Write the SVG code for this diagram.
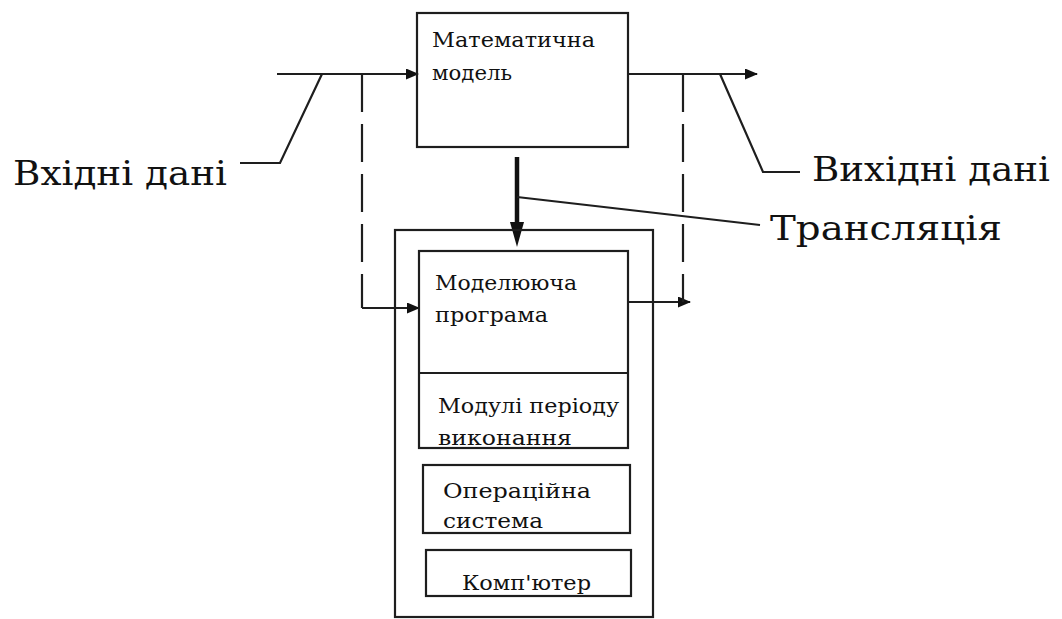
<svg xmlns="http://www.w3.org/2000/svg" width="1062" height="619" viewBox="0 0 1062 619">
  <style>
    .box { fill: none; stroke: #1e1e1e; stroke-width: 2.2; }
    .ln { fill: none; stroke: #1e1e1e; stroke-width: 2.2; }
    .dash { fill: none; stroke: #1e1e1e; stroke-width: 2.2; stroke-dasharray: 38 12; }
    .thick { fill: none; stroke: #111; stroke-width: 4.5; }
    .big { font-family: "DejaVu Serif", "Liberation Serif", serif; font-size: 34px; fill: #111; }
    .small { font-family: "DejaVu Serif", "Liberation Serif", serif; font-size: 21px; fill: #111; }
  </style>
  <defs>
    <marker id="arr" markerWidth="13" markerHeight="11" refX="12" refY="5.5" orient="auto" markerUnits="userSpaceOnUse">
      <path d="M0,0 L13,5.5 L0,11 Z" fill="#111"/>
    </marker>
  </defs>

  <rect width="1062" height="619" fill="#fff"/>

  <!-- connectors -->
  <g id="connectors">
    <!-- input flow into the model -->
    <path class="ln" d="M277,74 L418,74" marker-end="url(#arr)"/>
    <!-- output flow from the model -->
    <path class="ln" d="M628,74 L757,74" marker-end="url(#arr)"/>
    <!-- input data callout -->
    <path class="ln" d="M322,74 L280,163 L240,163"/>
    <!-- output data callout -->
    <path class="ln" d="M720,74 L763,172 L800,172"/>
    <!-- dashed input path to the simulation program -->
    <path class="dash" d="M362,74 L362,308"/>
    <path class="ln" d="M362,308 L419,308" marker-end="url(#arr)"/>
    <!-- dashed output path from the simulation program -->
    <path class="ln" d="M627,302 L690,302" marker-end="url(#arr)"/>
    <path class="dash" d="M683,74 L683,302"/>
    <!-- translation arrow -->
    <path class="thick" d="M517,157 L517,224"/>
    <path d="M510,222 L524,222 L517,247 Z" fill="#111"/>
    <!-- translation callout -->
    <path class="ln" d="M517,197 L760,225"/>
  </g>

  <!-- mathematical model -->
  <g id="model">
    <rect class="box" x="417" y="13" width="211" height="134"/>
    <text class="small" x="432" y="47" textLength="163" lengthAdjust="spacingAndGlyphs">Математична</text>
    <text class="small" x="432" y="80" textLength="80" lengthAdjust="spacingAndGlyphs">модель</text>
  </g>

  <!-- computer system stack -->
  <g id="system">
    <rect class="box" x="395" y="230" width="258" height="387"/>
  </g>

  <g id="program">
    <rect class="box" x="419" y="251" width="209" height="197"/>
    <line class="ln" x1="419" y1="373" x2="628" y2="373"/>
    <text class="small" x="435" y="290" textLength="142" lengthAdjust="spacingAndGlyphs">Моделююча</text>
    <text class="small" x="435" y="322" textLength="113" lengthAdjust="spacingAndGlyphs">програма</text>
  </g>

  <g id="runtime">
    <text class="small" x="438" y="413" textLength="181" lengthAdjust="spacingAndGlyphs">Модулі періоду</text>
    <text class="small" x="438" y="445" textLength="134" lengthAdjust="spacingAndGlyphs">виконання</text>
  </g>

  <g id="os">
    <rect class="box" x="423" y="465" width="207" height="68"/>
    <text class="small" x="443" y="498" textLength="148" lengthAdjust="spacingAndGlyphs">Операційна</text>
    <text class="small" x="443" y="528" textLength="100" lengthAdjust="spacingAndGlyphs">система</text>
  </g>

  <g id="computer">
    <rect class="box" x="426" y="550" width="205" height="46"/>
    <text class="small" x="462" y="590" textLength="129" lengthAdjust="spacingAndGlyphs">Комп'ютер</text>
  </g>

  <!-- labels -->
  <g id="label-input">
    <text class="big" x="13" y="185" textLength="214" lengthAdjust="spacingAndGlyphs">Вхідні дані</text>
  </g>
  <g id="label-output">
    <text class="big" x="812" y="181" textLength="238" lengthAdjust="spacingAndGlyphs">Вихідні дані</text>
  </g>
  <g id="label-translation">
    <text class="big" x="770" y="240" textLength="232" lengthAdjust="spacingAndGlyphs">Трансляція</text>
  </g>
</svg>
